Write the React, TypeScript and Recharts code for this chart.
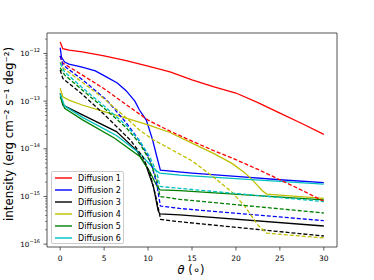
import React from 'react';
import { LineChart, Line, XAxis, YAxis, ReferenceArea, Legend } from 'recharts';

type Pt = [number, number];

// theta (deg) vs intensity
const thetaTicks = [0, 5, 10, 15, 20, 25, 30];
const decadeTicks = [1e-16, 1e-15, 1e-14, 1e-13, 1e-12];
const decadeLabels = ['\u221216', '\u221215', '\u221214', '\u221213', '\u221212'];

const diff1Solid: Pt[] = [
  [0, 1.74e-12], [0.3, 1.26e-12], [1, 1.17e-12], [2.5, 1.08e-12], [5, 8.9e-13], [7.5, 7.1e-13],
  [10, 5.4e-13], [12.5, 4.1e-13], [15, 2.8e-13], [17.5, 2.0e-13], [20, 1.48e-13], [22.5, 9.3e-14],
  [25, 5.6e-14], [27.5, 3.4e-14], [30, 2.0e-14],
];
const diff1Dashed: Pt[] = [
  [0, 8.9e-13], [0.3, 6.3e-13], [2.5, 3.55e-13], [5, 1.82e-13], [7.5, 8.5e-14], [10, 4.0e-14],
  [12.5, 2.34e-14], [15, 1.45e-14], [17.5, 9.1e-15], [20, 5.9e-15], [22.5, 3.7e-15], [25, 2.24e-15],
  [27.5, 1.35e-15], [30, 7.9e-16],
];
const diff2Solid: Pt[] = [
  [0, 1.32e-12], [0.15, 8.3e-13], [0.5, 6.6e-13], [1, 6.0e-13], [2.5, 5.2e-13], [4, 4.3e-13],
  [5.3, 3.2e-13], [6.5, 2.4e-13], [7.5, 1.66e-13], [8.5, 1.0e-13], [9, 6.6e-14], [9.8, 4.0e-14],
  [10.5, 1.58e-14], [11, 6.8e-15], [11.4, 3.55e-15], [15, 3.1e-15], [20, 2.63e-15], [25, 2.24e-15],
  [30, 1.95e-15],
];
const diff2Dashed: Pt[] = [
  [0, 8.9e-13], [0.3, 5.75e-13], [2.6, 2.75e-13], [5.3, 1.05e-13], [7.5, 3.55e-14], [8.9, 1.58e-14],
  [10, 7.1e-15], [10.5, 4.0e-15], [11, 1.78e-15], [11.4, 6.3e-16], [13.6, 5.6e-16], [30, 3.1e-16],
];
const diff3Solid: Pt[] = [
  [0, 1.45e-13], [0.3, 8.3e-14], [2.6, 5.1e-14], [6.4, 2.3e-14], [8.7, 9.3e-15], [9.8, 4.3e-15],
  [10.6, 1.62e-15], [11.15, 5.0e-16], [11.35, 4.3e-16], [13.6, 4.1e-16], [30, 2.4e-16],
];
const diff3Dashed: Pt[] = [
  [0, 4.5e-13], [0.3, 3.0e-13], [2.6, 1.35e-13], [4.9, 5.5e-14], [6.8, 2.5e-14], [8, 1.51e-14],
  [9.4, 6.8e-15], [10.2, 3.1e-15], [10.8, 1.17e-15], [11.43, 3.3e-16], [13.6, 2.95e-16], [30, 1.48e-16],
];
const diff4Solid: Pt[] = [
  [0, 1.86e-13], [0.3, 1.23e-13], [1, 1.05e-13], [2.5, 8.3e-14], [5, 6.0e-14], [7.5, 4.4e-14],
  [10, 3.16e-14], [12.5, 2.2e-14], [15, 1.32e-14], [17.5, 7.9e-15], [19.5, 5.0e-15], [21, 3.16e-15],
  [22, 2.1e-15], [23, 1.32e-15], [23.5, 1.12e-15], [25, 1.07e-15], [30, 9.1e-16],
];
const diff4Dashed: Pt[] = [
  [0, 6.6e-13], [0.3, 5.0e-13], [2.5, 2.5e-13], [5, 1.12e-13], [7.5, 4.5e-14], [9, 2.5e-14],
  [10.5, 1.58e-14], [12.5, 1.0e-14], [15, 5.6e-15], [17.5, 2.5e-15], [19.5, 1.26e-15], [21, 6.3e-16],
  [22.5, 2.5e-16], [23.5, 1.7e-16], [30, 1.35e-16],
];
const diff5Solid: Pt[] = [
  [0, 1.23e-13], [0.5, 7.1e-14], [2.6, 4.0e-14], [6.2, 1.66e-14], [9.1, 6.8e-15], [10.2, 3.3e-15],
  [11, 1.66e-15], [11.35, 1.38e-15], [13.6, 1.32e-15], [30, 8.5e-16],
];
const diff5Dashed: Pt[] = [
  [0, 5.0e-13], [0.5, 3.55e-13], [2.6, 1.66e-13], [5, 7.1e-14], [7.5, 2.8e-14], [9.1, 1.26e-14],
  [10.2, 5.6e-15], [11, 2.24e-15], [11.35, 1.0e-15], [13.6, 8.7e-16], [30, 4.5e-16],
];
const diff6Solid: Pt[] = [
  [0, 1.41e-13], [0.5, 7.9e-14], [2.6, 4.5e-14], [6.4, 1.9e-14], [9.1, 7.9e-15], [10.2, 4.7e-15],
  [11, 3.4e-15], [11.35, 3.1e-15], [13.6, 2.8e-15], [30, 1.82e-15],
];
const diff6Dashed: Pt[] = [
  [0, 6.3e-13], [0.5, 4.1e-13], [2.6, 1.86e-13], [5, 7.9e-14], [6.4, 4.7e-14], [7.5, 3.16e-14],
  [9.1, 1.41e-14], [10.2, 6.8e-15], [11, 3.16e-15], [11.35, 1.62e-15], [13.6, 1.48e-15], [30, 7.8e-16],
];

const series = [
  { name: 'Diffusion 1', color: '#ff0000', solid: diff1Solid, dashed: diff1Dashed },
  { name: 'Diffusion 2', color: '#0000ff', solid: diff2Solid, dashed: diff2Dashed },
  { name: 'Diffusion 3', color: '#000000', solid: diff3Solid, dashed: diff3Dashed },
  { name: 'Diffusion 4', color: '#bfbf00', solid: diff4Solid, dashed: diff4Dashed },
  { name: 'Diffusion 5', color: '#008000', solid: diff5Solid, dashed: diff5Dashed },
  { name: 'Diffusion 6', color: '#00bfbf', solid: diff6Solid, dashed: diff6Dashed },
];

const FONT = 'DejaVu Sans, sans-serif';
const PLOT_LEFT = 47;
const PLOT_BOTTOM = 247;
const Y_MIN = 8.7e-17;
const Y_MAX = 2.69e-12;

const minorTicks: number[] = [];
decadeTicks.forEach((d) => {
  for (let m = 2; m <= 9; m++) {
    const v = m * d;
    if (v > Y_MIN && v < Y_MAX) minorTicks.push(v);
  }
});
const yTicks = [...decadeTicks, ...minorTicks].sort((a, b) => a - b);

const toXY = (pts: Pt[]) => pts.map(([x, y]) => ({ x, y }));

const XTick = (props: any) => {
  const { x, payload } = props;
  return (
    <g>
      <line x1={x} x2={x} y1={PLOT_BOTTOM} y2={PLOT_BOTTOM + 3.5} stroke="#333" strokeWidth={0.8} />
      <text x={x} y={PLOT_BOTTOM + 13.5} textAnchor="middle" fontSize={7.5} fontFamily={FONT} fill="#000">
        {payload.value}
      </text>
    </g>
  );
};

const YTick = (props: any) => {
  const { y, payload } = props;
  const idx = decadeTicks.indexOf(payload.value);
  if (idx < 0) {
    return <line x1={PLOT_LEFT - 2} x2={PLOT_LEFT} y1={y} y2={y} stroke="#333" strokeWidth={0.6} />;
  }
  return (
    <g>
      <line x1={PLOT_LEFT - 3.5} x2={PLOT_LEFT} y1={y} y2={y} stroke="#333" strokeWidth={0.8} />
      <text x={PLOT_LEFT - 7} y={y + 2.4} textAnchor="end" fontSize={7.2} fontFamily={FONT} fill="#000">
        10
        <tspan dy={-3.8} fontSize={5}>{decadeLabels[idx]}</tspan>
      </text>
    </g>
  );
};

const YLabel = () => (
  <text
    x={12.5}
    y={134}
    transform="rotate(-90 12.5 134)"
    textAnchor="middle"
    fontSize={11.8}
    fontFamily={FONT}
    fill="#000"
  >
    intensity (erg cm⁻² s⁻¹ deg⁻²)
  </text>
);

const XLabel = () => (
  <text x={191} y={274} textAnchor="middle" fontSize={11.5} fontFamily={FONT} fill="#000">
    <tspan fontStyle="italic">θ</tspan> (∘)
  </text>
);

const LegendBox = () => (
  <div
    style={{
      width: 73,
      height: 73,
      border: '1px solid #cccccc',
      borderRadius: 2,
      background: 'rgba(255,255,255,0.8)',
      boxSizing: 'border-box',
    }}
  >
    <svg width={72} height={72}>
      {series.map((s, i) => (
        <g key={s.name}>
          <line x1={3} x2={20} y1={6 + i * 12} y2={6 + i * 12} stroke={s.color} strokeWidth={1.4} />
          <text x={26} y={6 + i * 12 + 2.8} fontSize={8} fontFamily={FONT} fill="#000">
            {s.name}
          </text>
        </g>
      ))}
    </svg>
  </div>
);

export default function App() {
  return (
    <div style={{ position: 'absolute', left: 0, top: 0, width: 374, height: 280, background: '#fff' }}>
      <LineChart width={374} height={280} margin={{ top: 33, right: 37, bottom: 0, left: 0 }}>
        <XAxis
          type="number"
          dataKey="x"
          domain={[-1.5, 31.5]}
          ticks={thetaTicks}
          interval={0}
          tick={<XTick />}
          tickLine={false}
          axisLine={false}
          height={33}
          allowDataOverflow
          label={<XLabel />}
        />
        <YAxis
          type="number"
          scale="log"
          domain={[Y_MIN, Y_MAX]}
          ticks={yTicks}
          interval={0}
          tick={<YTick />}
          tickLine={false}
          axisLine={false}
          width={47}
          allowDataOverflow
          label={<YLabel />}
        />
        <ReferenceArea
          x1={-1.5}
          x2={31.5}
          y1={Y_MIN}
          y2={Y_MAX}
          fill="none"
          stroke="#555"
          strokeWidth={1}
          ifOverflow="visible"
        />
        {series.map((s) => (
          <Line
            key={s.name + '-s'}
            name={s.name}
            data={toXY(s.solid)}
            dataKey="y"
            type="linear"
            stroke={s.color}
            strokeWidth={1.3}
            dot={false}
            activeDot={false}
            isAnimationActive={false}
          />
        ))}
        {series.map((s) => (
          <Line
            key={s.name + '-d'}
            name={s.name + ' dashed'}
            data={toXY(s.dashed)}
            dataKey="y"
            type="linear"
            stroke={s.color}
            strokeWidth={1.3}
            strokeDasharray="4 2"
            dot={false}
            activeDot={false}
            legendType="none"
            isAnimationActive={false}
          />
        ))}
        <Legend
          layout="vertical"
          align="center"
          verticalAlign="middle"
          content={<LegendBox />}
          wrapperStyle={{ left: 51, top: 171, width: 73, height: 73 }}
        />
      </LineChart>
    </div>
  );
}
